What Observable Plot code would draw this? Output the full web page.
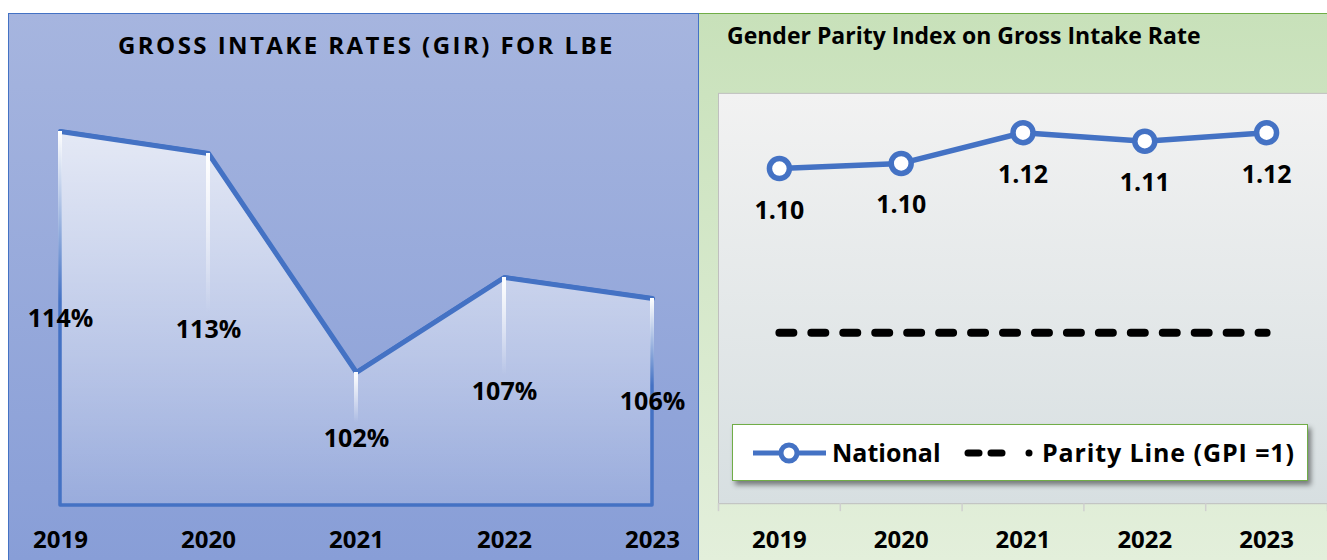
<!DOCTYPE html>
<html>
<head>
<meta charset="utf-8">
<script src="https://cdn.jsdelivr.net/npm/d3@7"></script>
<script src="https://cdn.jsdelivr.net/npm/@observablehq/plot@0.6"></script>
<style>
  html, body { margin: 0; padding: 0; }
  body { width: 1327px; height: 560px; overflow: hidden; background: #fff; position: relative; font-family: "Open Sans", sans-serif; }
  .abs { position: absolute; }
  #leftBg { left: 8px; top: 13px; width: 691px; height: 547px; box-sizing: border-box;
    background: linear-gradient(#a6b5df, #889ed7); border: 1px solid #4472C4; border-bottom: none; }
  #rightBg { left: 699px; top: 13px; width: 628px; height: 547px; box-sizing: border-box;
    background: linear-gradient(#c8e1ba, #e3efdb); border-top: 1.5px solid #70AD47; }
  #leftChart { left: 8px; top: 13px; }
  #rightChart { left: 714px; top: 13px; }
  #leftTitle { left: 118px; top: 28px; font-weight: bold; font-size: 24px; line-height: 34px; letter-spacing: 2px; color: #000; white-space: nowrap; }
  #rightTitle { left: 727px; top: 19px; font-weight: bold; font-size: 21px; line-height: 32px; color: #000; white-space: nowrap; }
  #legend { left: 732px; top: 424px; width: 576px; height: 57px; box-sizing: border-box; background: #fff;
    border: 1.5px solid #70AD47; box-shadow: 3px 4px 5px rgba(0,0,0,0.45); }
  .legText { position: absolute; top: 10px; font-weight: bold; font-size: 25px; line-height: 34px; color: #000; white-space: nowrap; }
  svg { overflow: visible; }
</style>
</head>
<body>
<div id="leftBg" class="abs"></div>
<div id="rightBg" class="abs"></div>
<div id="leftChart" class="abs"></div>
<div id="rightChart" class="abs"></div>
<div id="leftTitle" class="abs"></div>
<div id="rightTitle" class="abs"></div>
<div id="legend" class="abs"></div>
<script>
// ---------- data ----------
const years = [2019, 2020, 2021, 2022, 2023];
const girValues = [114.2, 113.1, 102.15, 106.9, 105.85];   // Gross Intake Rate (%)
const girAxis = [95.5, 116];                                // value axis range (left)
const gpiNational = [1.096, 1.099, 1.117, 1.112, 1.117];    // GPI national
const gpiParity = [1, 1, 1, 1, 1];                          // parity line
const gpiAxis = [0.9, 1.14];                                // value axis range (right)
const leftTitle = "GROSS INTAKE RATES (GIR) FOR LBE";
const rightTitle = "Gender Parity Index on Gross Intake Rate";
const legendLabels = ["National", "Parity Line (GPI =1)"];

const BLUE = "#4472C4";
const FONT = '"Open Sans", sans-serif';

const gir = years.map((year, i) => ({year, value: girValues[i], mid: (girValues[i] + girAxis[0]) / 2}));
const gpi = years.map((year, i) => ({year, national: gpiNational[i], parity: gpiParity[i]}));
const boundaries = [years[0] - 0.5, ...years.map(y => y + 0.5)];

function gradientDefs(id, stops) {
  return () => {
    const defs = d3.create("svg:defs");
    const g = defs.append("linearGradient").attr("id", id)
      .attr("x1", 0).attr("y1", 0).attr("x2", 0).attr("y2", 1);
    for (const [o, c, a] of stops) g.append("stop").attr("offset", o).attr("stop-color", c).attr("stop-opacity", a);
    return defs.node();
  };
}

const baseStyle = {background: "transparent", fontFamily: FONT, fontSize: "24px", fontWeight: "bold", color: "#000", overflow: "visible"};

// ---------- left chart ----------
const left = Plot.plot({
  width: 690, height: 547,
  marginLeft: 52, marginRight: 46, marginTop: 82, marginBottom: 55,
  x: {domain: [years[0], years[years.length - 1]], ticks: years, tickFormat: d => String(d), tickSize: 0, tickPadding: 25, label: null},
  y: {domain: girAxis, axis: null},
  style: baseStyle,
  marks: [
    gradientDefs("girFill", [[0, "#fff", 0.72], [1, "#fff", 0.12]]),
    gradientDefs("girDrop", [[0, "#fff", 1], [1, "#fff", 0]]),
    Plot.areaY(gir, {x: "year", y1: () => girAxis[0], y2: "value", fill: "url(#girFill)", stroke: BLUE, strokeWidth: 3.5}),
    Plot.lineY(gir, {x: "year", y: "value", stroke: BLUE, strokeWidth: 5}),
    Plot.rect(gir, {x1: "year", x2: "year", y1: "mid", y2: "value", insetLeft: -2, insetRight: -2, insetBottom: 16, fill: "url(#girDrop)"}),
    Plot.text(gir, {x: "year", y: "mid", text: d => Math.round(d.value) + "%", fontSize: 25, fontWeight: "bold", fill: "#000"})
  ]
});
document.getElementById("leftChart").appendChild(left);

// ---------- right chart ----------
const right = Plot.plot({
  width: 614, height: 547,
  marginLeft: 4, marginRight: 0, marginTop: 80, marginBottom: 56,
  x: {domain: [boundaries[0], boundaries[boundaries.length - 1]], ticks: years, tickFormat: d => String(d), tickSize: 0, tickPadding: 27, label: null},
  y: {domain: gpiAxis, axis: null},
  style: baseStyle,
  marks: [
    gradientDefs("gpiBg", [[0, "#f2f2f2", 1], [1, "#d7dfe1", 1]]),
    Plot.frame({fill: "url(#gpiBg)", stroke: "#bfbfbf"}),
    Plot.ruleX(boundaries, {y1: gpiAxis[0], y2: gpiAxis[0], insetBottom: -8, stroke: "#cfcfcf", strokeWidth: 1.5}),
    Plot.line(gpi, {x: "year", y: "parity", stroke: "#000", strokeWidth: 8, strokeDasharray: "14 18", strokeLinecap: "round"}),
    Plot.line(gpi, {x: "year", y: "national", stroke: BLUE, strokeWidth: 5.5}),
    Plot.dot(gpi, {x: "year", y: "national", r: 10, fill: "#fff", stroke: BLUE, strokeWidth: 5.5}),
    Plot.text(gpi, {x: "year", y: "national", text: d => d.national.toFixed(2), dy: 42, fontSize: 25, fontWeight: "bold", fill: "#000"})
  ]
});
document.getElementById("rightChart").appendChild(right);

// ---------- titles ----------
const lt = document.getElementById("leftTitle");
lt.textContent = leftTitle;
const rt = document.getElementById("rightTitle");
rt.textContent = rightTitle;

// ---------- legend ----------
const legend = d3.select("#legend");
const sw1 = legend.append("svg").attr("width", 76).attr("height", 30)
  .style("position", "absolute").style("left", "20px").style("top", "13px");
sw1.append("line").attr("x1", 0).attr("x2", 73).attr("y1", 15).attr("y2", 15).attr("stroke", BLUE).attr("stroke-width", 5);
sw1.append("circle").attr("cx", 36).attr("cy", 15).attr("r", 8).attr("fill", "#fff").attr("stroke", BLUE).attr("stroke-width", 5);
const lg1 = legend.append("div").attr("class", "legText").style("left", "99px").text(legendLabels[0]);
const sw2 = legend.append("svg").attr("width", 80).attr("height", 30)
  .style("position", "absolute").style("left", "231px").style("top", "13px");
sw2.append("line").attr("x1", 4).attr("x2", 15).attr("y1", 15).attr("y2", 15).attr("stroke", "#000").attr("stroke-width", 7).attr("stroke-linecap", "round");
sw2.append("line").attr("x1", 27).attr("x2", 38).attr("y1", 15).attr("y2", 15).attr("stroke", "#000").attr("stroke-width", 7).attr("stroke-linecap", "round");
sw2.append("circle").attr("cx", 65).attr("cy", 15).attr("r", 3.5).attr("fill", "#000");
const lg2 = legend.append("div").attr("class", "legText").style("left", "309px").text(legendLabels[1]);

// fit text widths to the reference layout
(function fit() {
  const targetL = 497, n = leftTitle.length;
  const w0 = lt.getBoundingClientRect().width;
  const ls = parseFloat(getComputedStyle(lt).letterSpacing) || 0;
  lt.style.letterSpacing = Math.max(0, ls + (targetL - w0) / n) + "px";
  const wr = rt.getBoundingClientRect().width;
  rt.style.fontSize = Math.min(23, 21 * 478 / wr) + "px";
  const w2 = lg2.node().getBoundingClientRect().width;
  const ls2 = (252 - w2) / legendLabels[1].length;
  lg2.style("letter-spacing", Math.max(0, Math.min(1.5, ls2)) + "px");
  lg2.style("word-spacing", Math.max(0, (252 - w2 - 19 * Math.max(0, Math.min(1.5, ls2))) / 3) + "px");
})();
</script>
</body>
</html>
